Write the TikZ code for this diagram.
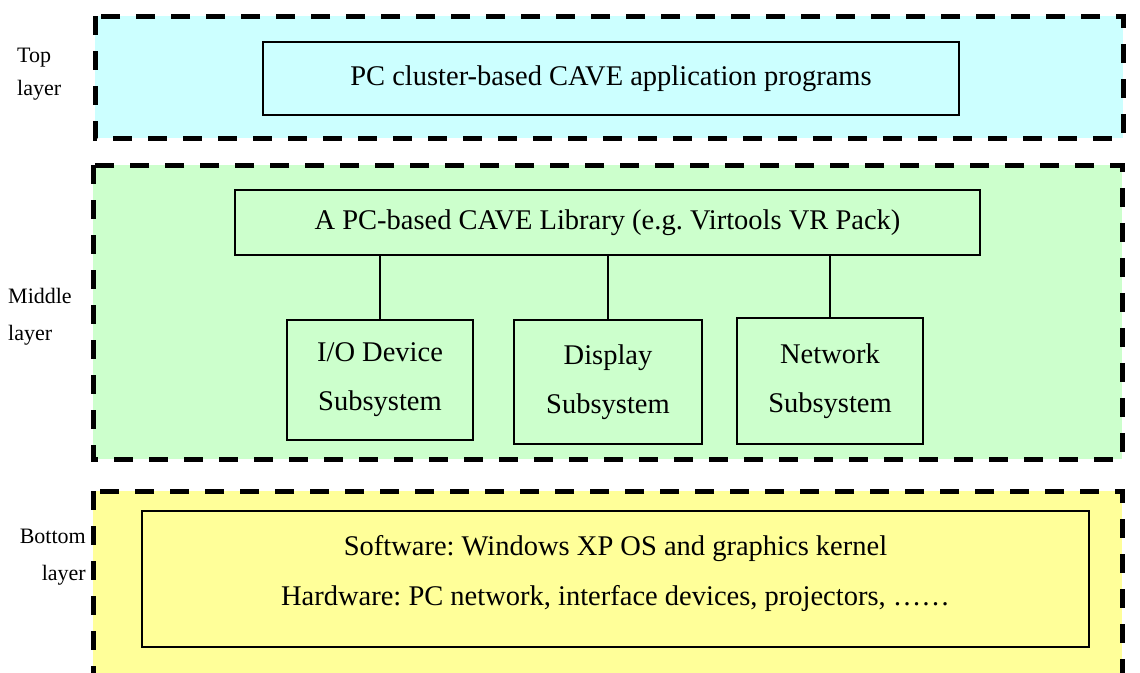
\documentclass[tikz,border=0pt]{standalone}
\IfFileExists{pplr8t.tfm}{%
  \usepackage[T1]{fontenc}
  \renewcommand\rmdefault{ppl}
  \newcommand\blocksize{26}
  \newcommand\sidesize{20}
}{%
  \usepackage{fontspec}
  \setmainfont{Liberation Serif}
  \newcommand\blocksize{28.5}
  \newcommand\sidesize{22}
}
\frenchspacing
\begin{document}
\begin{tikzpicture}[x=1pt,y=-1pt,
  layerbox/.style={line width=5pt,dash pattern=on 19pt off 16pt},
  blockbox/.style={draw,line width=2pt,inner sep=0pt,align=center,
    font=\fontsize{\blocksize}{49}\selectfont},
  sidelabel/.style={inner sep=0pt,font=\fontsize{\sidesize}{24}\selectfont},
  link/.style={line width=2pt}]
\definecolor{topfill}{HTML}{CCFFFF}
\definecolor{midfill}{HTML}{CCFFCC}
\definecolor{botfill}{HTML}{FFFF99}
\useasboundingbox (0,0) rectangle (1140,672);
\clip (0,0) rectangle (1140,672);

% layer frames
\draw[layerbox,fill=topfill] (95,16) rectangle (1123,138);
\draw[layerbox,fill=midfill] (93,165) rectangle (1122,459);
\draw[layerbox,fill=botfill] (93,491) rectangle (1122,700);

% top layer
\node[blockbox,minimum width=696pt,minimum height=73pt] (apps) at (611,78.5)
  {PC cluster-based CAVE application programs};

% middle layer
\node[blockbox,minimum width=745pt,minimum height=65pt] (lib) at (607.5,222.5)
  {A PC-based CAVE Library (e.g. Virtools VR Pack)};
\node[blockbox,minimum width=186pt,minimum height=120pt] (io) at (380,380)
  {I/O Device\\Subsystem};
\node[blockbox,minimum width=188pt,minimum height=124pt] (disp) at (608,382)
  {Display\\Subsystem};
\node[blockbox,minimum width=186pt,minimum height=126pt] (net) at (830,381)
  {Network\\Subsystem};
\draw[link] (io.north) -- (io.north |- lib.south);
\draw[link] (disp.north) -- (disp.north |- lib.south);
\draw[link] (net.north) -- (net.north |- lib.south);

% bottom layer
\node[blockbox,minimum width=947pt,minimum height=136pt,font=\fontsize{\blocksize}{50}\selectfont] (hw) at (615.5,579)
  {Software: Windows XP OS and graphics kernel\\Hardware: PC network, interface devices, projectors, \dots\dots\\[-32pt]\mbox{}};

% layer names
\node[sidelabel,anchor=base west] (topA) at (17,62) {Top};
\node[sidelabel,anchor=base west] (topB) at (17,95) {layer};
\node[sidelabel,anchor=base west] (midA) at (8,303) {Middle};
\node[sidelabel,anchor=base west] (midB) at (8,340) {layer};
\node[sidelabel,anchor=base east] (botA) at (86,543) {Bottom};
\node[sidelabel,anchor=base east] (botB) at (86,580) {layer};
\end{tikzpicture}
\end{document}
